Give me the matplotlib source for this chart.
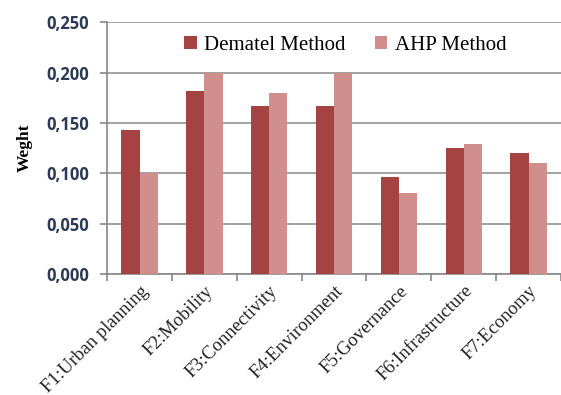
import numpy as np
import matplotlib.pyplot as plt
from matplotlib.ticker import FuncFormatter, MultipleLocator

factors = ['F1:Urban planning', 'F2:Mobility', 'F3:Connectivity', 'F4:Environment',
           'F5:Governance', 'F6:Infrastructure', 'F7:Economy']
dematel = [0.143, 0.182, 0.167, 0.167, 0.096, 0.125, 0.120]
ahp = [0.100, 0.200, 0.180, 0.200, 0.080, 0.129, 0.110]

fig = plt.figure(figsize=(5.61, 3.95), dpi=100)
ax = fig.add_axes([0.191, 0.306, 0.809, 0.638])

x = np.arange(len(factors))
w = 0.28
ax.bar(x - w / 2, dematel, w, color='#a44341', label='Dematel Method', zorder=3)
ax.bar(x + w / 2, ahp, w, color='#d08e8d', label='AHP Method', zorder=3)

ax.set_xlim(-0.5, len(factors) - 0.5)
ax.set_ylim(0, 0.25)
ax.yaxis.set_major_locator(MultipleLocator(0.05))
ax.yaxis.set_major_formatter(FuncFormatter(lambda v, p: f'{v:.3f}'.replace('.', ',')))
ax.grid(axis='y', color='#9a9a9a', linewidth=1.3, zorder=0)

ax.set_xticks(x)
ax.set_xticklabels(factors, rotation=45, ha='right', rotation_mode='anchor',
                   family='Liberation Serif', fontsize=13.5, color='#222222')
ax.tick_params(axis='x', length=0, pad=6)
ax.set_xticks(np.arange(len(factors) + 1) - 0.5, minor=True)
ax.tick_params(axis='x', which='minor', length=5, color='#888888', width=1.2)
ax.tick_params(axis='y', length=5, color='#888888', width=1.2, pad=8)
for lbl in ax.get_yticklabels():
    lbl.set_family('Open Sans')
    lbl.set_fontweight('bold')
    lbl.set_fontsize(12)
    lbl.set_color('#2c3a55')

for side in ['top', 'right']:
    ax.spines[side].set_visible(False)
for side in ['left', 'bottom']:
    ax.spines[side].set_color('#888888')
    ax.spines[side].set_linewidth(1.2)

ax.set_ylabel('Weght', family='Liberation Serif', fontweight='bold', fontsize=12.5, labelpad=10)

ax.legend(loc='upper center', bbox_to_anchor=(0.525, 1.02), ncol=2, frameon=False,
          prop={'family': 'Liberation Serif', 'size': 15}, handlelength=0.6,
          handleheight=0.6, columnspacing=1.4, handletextpad=0.35)

fig.savefig('out.png', dpi=100)
